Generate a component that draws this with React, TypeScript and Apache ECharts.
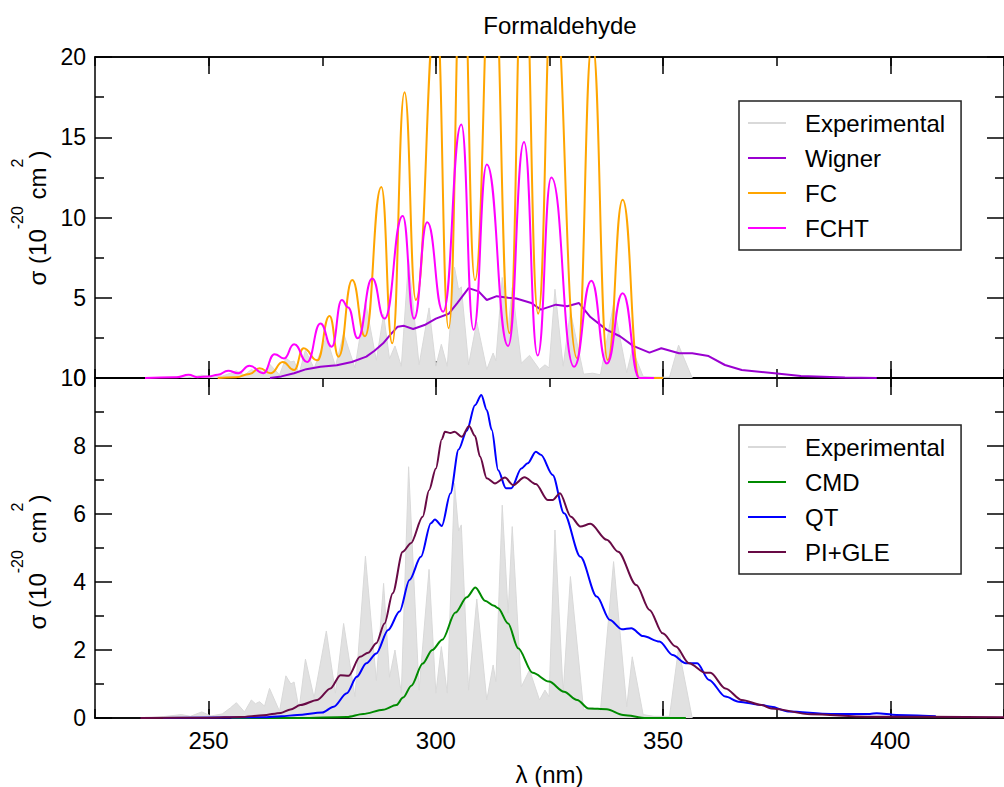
import React, { useEffect, useRef } from "react";
import * as echarts from "echarts";

// ---------- data: [wavelength (nm), sigma (1e-20 cm^2)] ----------
const experimental: [number, number][] = [
  [236, 0], [240, 0.04], [244, 0.1], [246, 0.05], [248.5, 0.18], [250.5, 0.06], [253, 0.12],
  [254.8, 0.3], [256.1, 0.45], [257.9, 0.18], [259.4, 0.53], [260.3, 0.42], [261.2, 0.48],
  [262.3, 0.35], [263.4, 0.87], [265.6, 0.2], [267.0, 1.24], [268.1, 1.0], [268.8, 1.06],
  [269.9, 0.26], [271.3, 1.73], [273.2, 0.6], [275.9, 2.56], [277.9, 0.73], [279.7, 2.78],
  [282.2, 0.63], [284.5, 4.76], [286.9, 1.1], [288.5, 3.96], [289.8, 1.2], [291.0, 2.0],
  [292.4, 0.73], [294.0, 7.39], [296.3, 0.82], [298.5, 4.37], [300.0, 0.73], [301.2, 2.1],
  [302.5, 0.73], [304.1, 6.9], [305.0, 5.5], [305.6, 5.68], [307.2, 0.82], [309.0, 3.5],
  [311.2, 0.53], [312.6, 1.56], [313.2, 1.07], [314.6, 6.26], [315.9, 3.08], [316.8, 5.63],
  [318.8, 0.92], [320.6, 1.41], [322.8, 0.53], [324.0, 0.82], [324.9, 0.63], [326.2, 5.53],
  [328.0, 0.73], [329.6, 4.16], [332.5, 0.24], [334.5, 0.3], [336.2, 0.2], [339.1, 4.6],
  [342.0, 0.33], [343.2, 1.8], [345.6, 0.1], [348, 0.05], [351.4, 0.05], [353.4, 2.05],
  [356.4, 0],
];

const wigner: [number, number][] = [
  [263.5, 0], [266, 0.1], [268.8, 0.3], [271.5, 0.55], [274.6, 0.7], [278.2, 0.8], [281.5, 1.0],
  [284.7, 1.33], [286.5, 1.7], [288.4, 2.16], [290, 2.7], [291.6, 3.2], [293, 3.25], [295.0, 3.05],
  [297.5, 3.3], [300, 3.7], [302.8, 4.0], [304.7, 4.67], [307.2, 5.6], [309.4, 5.4], [311.2, 4.86],
  [313.4, 5.1], [315.9, 5.0], [317.7, 4.95], [321, 4.67], [323.1, 4.26], [326.4, 4.57],
  [328.9, 4.47], [331.5, 4.67], [334.0, 3.8], [337.6, 3.0], [340.5, 2.6], [343.4, 2.0],
  [347, 1.58], [349.6, 1.85], [353.5, 1.54], [356.4, 1.54], [360, 1.37], [363.6, 0.81],
  [367.3, 0.5], [374.5, 0.29], [380.3, 0.12], [390, 0.03], [397, 0],
];

const fc: [number, number][] = [
  [252, 0], [256, 0.05], [259, 0.25], [261.2, 0.6], [263.7, 0.3], [266.3, 1.0], [268.8, 0.5],
  [270.9, 1.85], [273.9, 1.1], [276.6, 3.86], [278.6, 1.33], [281.6, 6.1], [284.4, 2.6],
  [288.0, 11.9], [290.4, 2.16], [293.1, 17.8], [295.6, 4.86], [300.1, 23], [302.8, 3.1],
  [305.8, 28], [308.6, 6.1], [312.4, 28], [316.2, 2.8], [319.3, 28], [322.5, 4.0], [325.7, 25],
  [331.1, 1.22], [334.4, 21], [337.8, 1.12], [341.1, 11.1], [344.8, 0], [350, 0],
];

const fcht: [number, number][] = [
  [236, 0], [243, 0.05], [245.6, 0.2], [247.5, 0.05], [250, 0.1], [252, 0.2], [254.3, 0.45],
  [256.5, 0.3], [259, 0.77], [262, 0.3], [264.5, 1.48], [266.6, 1.22], [268.8, 2.1], [271.7, 1.0],
  [274.6, 3.4], [277.1, 1.95], [279.3, 4.86], [280.7, 4.4], [282.8, 2.47], [286, 6.2], [288.7, 3.7],
  [292.7, 10.1], [295.2, 3.7], [298.1, 9.7], [301.6, 4.13], [305.6, 15.8], [308.3, 3.0],
  [311.2, 13.3], [315.9, 2.0], [319.4, 14.7], [322.4, 1.4], [325.4, 12.5], [330.4, 0.7],
  [334.2, 6.06], [337.6, 0.9], [341.1, 5.28], [344.8, 0], [348, 0],
];

const cmd: [number, number][] = [
  [255, 0], [270, 0], [280.4, 0.03], [284.0, 0.12], [288.4, 0.24], [291.3, 0.38], [292.8, 0.6],
  [294.6, 0.95], [297.1, 1.6], [299.2, 2.0], [301.4, 2.3], [304.3, 3.1], [306.8, 3.55],
  [308.7, 3.84], [310.8, 3.45], [312.8, 3.3], [313.7, 3.23], [315.9, 2.78], [318.1, 2.05],
  [321.3, 1.33], [324.9, 1.07], [328.2, 0.77], [331.1, 0.53], [333.6, 0.28], [337.6, 0.26],
  [341.2, 0.09], [346.3, 0], [355, 0],
];

const qt: [number, number][] = [
  [240, 0], [262, 0.02], [266, 0.05], [269.5, 0.09], [275, 0.16], [277.5, 0.33], [280.4, 0.73],
  [282.6, 1.21], [284.7, 1.61], [286.9, 1.9], [289.5, 2.59], [292.0, 3.13], [294.2, 4.06],
  [296.7, 4.74], [298.9, 5.73], [299.8, 5.84], [301.3, 5.65], [303.2, 6.6], [305.0, 7.9],
  [306.8, 8.45], [308.6, 9.2], [310.0, 9.5], [311.2, 9.06], [312.3, 8.47], [313.7, 7.29],
  [315.4, 6.76], [316.6, 6.76], [318.8, 7.34], [320.2, 7.49], [322.0, 7.83], [323.1, 7.74],
  [325.7, 7.15], [328.2, 6.02], [331.8, 4.74], [335.4, 3.57], [338.3, 2.88], [340.9, 2.61],
  [343.0, 2.64], [345.6, 2.41], [349.2, 2.25], [352.1, 1.85], [355.0, 1.61], [357.5, 1.61],
  [360.1, 1.12], [363.7, 0.63], [366.6, 0.48], [371.7, 0.38], [373.8, 0.33], [377.5, 0.19],
  [386.9, 0.12], [395.5, 0.12], [397, 0.14], [401.3, 0.09], [410, 0.05],
];

const piGle: [number, number][] = [
  [235, 0], [250, 0.01], [257, 0.03], [262, 0.08], [265.9, 0.15], [268, 0.25], [270.2, 0.38],
  [273.9, 0.53], [276.8, 0.87], [279.0, 1.26], [280.8, 1.24], [283.3, 1.8], [285.1, 1.92],
  [286.9, 2.2], [288.7, 2.78], [290.5, 3.67], [292.7, 4.89], [294.5, 5.14], [297.1, 5.92],
  [298.5, 6.7], [300.0, 7.34], [301.3, 8.2], [302.0, 8.42], [303.2, 8.38], [304.1, 8.42],
  [305.7, 8.27], [307.3, 8.59], [308.6, 8.3], [309.7, 7.69], [311.2, 7.05], [313.0, 6.9],
  [315.2, 7.07], [317.0, 6.85], [319.5, 7.08], [322.0, 6.88], [324.6, 6.41], [325.7, 6.41],
  [327.3, 6.61], [329.7, 5.92], [331.8, 5.63], [334.0, 5.71], [337.6, 5.24], [340.1, 4.89],
  [344.1, 3.91], [347.0, 3.18], [349.9, 2.49], [352.8, 2.1], [355.7, 1.61], [359.3, 1.33],
  [360.4, 1.33], [363.7, 0.87], [367.3, 0.53], [371.7, 0.38], [373.8, 0.28], [382.5, 0.11],
  [395, 0.04], [425, 0.02],
];

const xMajorTicks = [250, 300, 350, 400];
const topLegendNames = ["Experimental", "Wigner", "FC", "FCHT"];
const bottomLegendNames = ["Experimental", "CMD", "QT", "PI+GLE"];

// ---------- styling ----------
const FONT = "'Liberation Sans', Arial, Helvetica, sans-serif";
const X_MIN = 225;
const X_MAX = 425;
const lineStyleAxis = { color: "#000", width: 1.5 };

function xAxisCfg(gridIndex: number, position: string, kind: "major" | "minor", labels: boolean) {
  const base: any = {
    type: "value",
    gridIndex,
    position,
    min: X_MIN,
    max: X_MAX,
    splitLine: { show: false },
    axisLine: { show: true, onZero: false, lineStyle: lineStyleAxis },
  };
  if (kind === "major") {
    return {
      ...base,
      axisTick: { show: true, inside: true, length: 17, customValues: xMajorTicks, lineStyle: lineStyleAxis },
      axisLabel: labels
        ? { show: true, customValues: xMajorTicks, fontSize: 24, fontFamily: FONT, color: "#000", margin: 10 }
        : { show: false },
      ...(labels
        ? {
            name: "λ (nm)",
            nameLocation: "middle",
            nameGap: 44,
            nameTextStyle: { fontSize: 24, fontFamily: FONT, color: "#000" },
          }
        : {}),
    };
  }
  return {
    ...base,
    interval: 25,
    axisTick: { show: true, inside: true, length: 9, lineStyle: lineStyleAxis },
    axisLabel: { show: false },
  };
}

function yAxisCfg(gridIndex: number, position: string, max: number, interval: number, labels: boolean) {
  return {
    type: "value",
    gridIndex,
    position,
    min: 0,
    max,
    interval,
    splitLine: { show: false },
    axisLine: { show: true, onZero: false, lineStyle: lineStyleAxis },
    axisTick: { show: true, inside: true, length: 17, lineStyle: lineStyleAxis },
    minorTick: { show: true, splitNumber: 2, length: 9, lineStyle: lineStyleAxis },
    minorSplitLine: { show: false },
    axisLabel: labels
      ? { show: true, fontSize: 23, fontFamily: FONT, color: "#000", margin: 9 }
      : { show: false },
  };
}

function lineSeries(
  name: string,
  data: [number, number][],
  color: string,
  xAxisIndex: number,
  yAxisIndex: number,
  smooth: number | false
) {
  return {
    name,
    type: "line",
    data,
    xAxisIndex,
    yAxisIndex,
    symbol: "none",
    smooth,
    smoothMonotone: "x",
    clip: true,
    lineStyle: { color, width: 2 },
    itemStyle: { color },
  };
}

function expSeries(xAxisIndex: number, yAxisIndex: number) {
  return {
    name: "Experimental",
    type: "line",
    data: experimental,
    xAxisIndex,
    yAxisIndex,
    symbol: "none",
    clip: true,
    lineStyle: { color: "#d9d9d9", width: 1 },
    itemStyle: { color: "#d9d9d9" },
    areaStyle: { color: "#e1e1e1", opacity: 1 },
  };
}

function legendCfg(names: string[], top: number) {
  return {
    data: names.map((n) => ({ name: n, icon: "rect" })),
    orient: "vertical",
    left: 739,
    top,
    padding: [10, 16, 10, 9],
    itemWidth: 38,
    itemHeight: 2,
    itemGap: 11,
    borderColor: "#222",
    borderWidth: 1.5,
    selectedMode: false,
    textStyle: { fontSize: 24, fontFamily: FONT, color: "#000", lineHeight: 24, padding: [0, 0, 0, 14] },
  };
}

const yNameRich = {
  a: { fontSize: 24, fontFamily: FONT, lineHeight: 40, verticalAlign: "bottom", fill: "#000" },
  s: { fontSize: 16, fontFamily: FONT, lineHeight: 16, verticalAlign: "top", fill: "#000" },
};

function yName(y: number) {
  return {
    type: "text",
    x: 29.5,
    y,
    rotation: Math.PI / 2,
    style: {
      text: "{a|σ (10}{s|-20}{a| cm}{s|2}{a|)}",
      rich: yNameRich,
      align: "center",
      verticalAlign: "middle",
      fill: "#000",
    },
  };
}

const option: any = {
  animation: false,
  backgroundColor: "#fff",
  title: {
    text: "Formaldehyde",
    left: 555,
    top: 8,
    textAlign: "center",
    textStyle: { fontSize: 24, fontWeight: "normal", fontFamily: FONT, color: "#000" },
  },
  grid: [
    { left: 95, top: 57, width: 920, height: 321 },
    { left: 95, top: 378, width: 920, height: 340 },
  ],
  xAxis: [
    xAxisCfg(0, "bottom", "major", false),
    xAxisCfg(0, "bottom", "minor", false),
    xAxisCfg(0, "top", "major", false),
    xAxisCfg(0, "top", "minor", false),
    xAxisCfg(1, "bottom", "major", true),
    xAxisCfg(1, "bottom", "minor", false),
    xAxisCfg(1, "top", "major", false),
    xAxisCfg(1, "top", "minor", false),
  ],
  yAxis: [
    yAxisCfg(0, "left", 20, 5, true),
    yAxisCfg(0, "right", 20, 5, false),
    yAxisCfg(1, "left", 10, 2, true),
    yAxisCfg(1, "right", 10, 2, false),
  ],
  legend: [legendCfg(topLegendNames, 101), legendCfg(bottomLegendNames, 425)],
  graphic: [yName(218), yName(562)],
  series: [
    expSeries(0, 0),
    lineSeries("Wigner", wigner, "#9a00d0", 0, 0, false),
    lineSeries("FC", fc, "#ffa500", 0, 0, 0.5),
    lineSeries("FCHT", fcht, "#ff00ff", 0, 0, 0.5),
    expSeries(4, 2),
    lineSeries("CMD", cmd, "#008a00", 4, 2, 0.3),
    lineSeries("QT", qt, "#0000ff", 4, 2, 0.3),
    lineSeries("PI+GLE", piGle, "#680a45", 4, 2, 0.3),
  ],
};

export default function App() {
  const ref = useRef<HTMLDivElement>(null);
  useEffect(() => {
    if (!ref.current) return;
    const chart = echarts.init(ref.current, null, { renderer: "svg" });
    chart.setOption(option);
    return () => chart.dispose();
  }, []);
  return (
    <div
      ref={ref}
      style={{ position: "absolute", left: 0, top: 0, width: 1004, height: 787, overflow: "hidden" }}
    />
  );
}
